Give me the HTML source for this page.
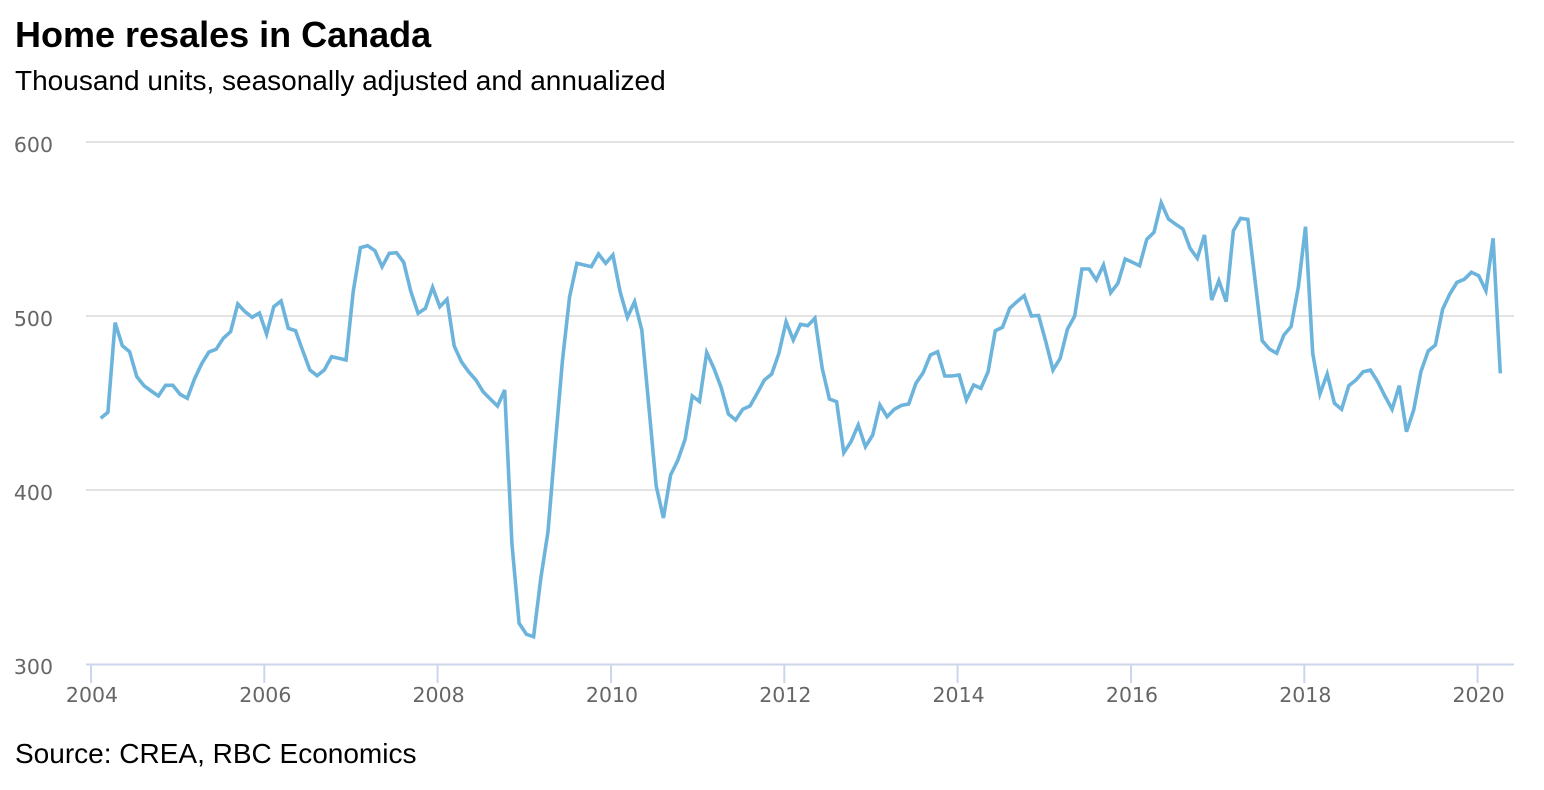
<!DOCTYPE html>
<html><head><meta charset="utf-8"><style>
html,body{margin:0;padding:0;background:#fff;}
svg{display:block;}
</style></head><body>
<svg width="1544" height="790" viewBox="0 0 1544 790" xmlns="http://www.w3.org/2000/svg">
<rect width="1544" height="790" fill="#fff"/>
<text x="15" y="47" font-family="Liberation Sans, Arial, sans-serif" font-size="36" font-weight="bold" fill="#000">Home resales in Canada</text>
<text x="15" y="90" font-family="Liberation Sans, Arial, sans-serif" font-size="28" fill="#000">Thousand units, seasonally adjusted and annualized</text>
<g stroke="#e3e3e3" stroke-width="2">
<line x1="86" y1="142" x2="1514" y2="142"/>
<line x1="86" y1="316" x2="1514" y2="316"/>
<line x1="86" y1="490" x2="1514" y2="490"/>
</g>
<g font-family="DejaVu Sans, Verdana, sans-serif" font-size="20.5" fill="#666" text-anchor="end">
<text x="53" y="152">600</text>
<text x="53" y="326">500</text>
<text x="53" y="500">400</text>
<text x="53" y="674">300</text>
</g>
<g stroke="#ccd6eb" stroke-width="2">
<line x1="86" y1="664.5" x2="1514" y2="664.5"/>
<line x1="91" y1="664" x2="91" y2="683"/>
<line x1="264.3" y1="664" x2="264.3" y2="683"/>
<line x1="437.6" y1="664" x2="437.6" y2="683"/>
<line x1="611" y1="664" x2="611" y2="683"/>
<line x1="784.3" y1="664" x2="784.3" y2="683"/>
<line x1="957.6" y1="664" x2="957.6" y2="683"/>
<line x1="1131" y1="664" x2="1131" y2="683"/>
<line x1="1304.3" y1="664" x2="1304.3" y2="683"/>
<line x1="1477.6" y1="664" x2="1477.6" y2="683"/>
</g>
<g font-family="DejaVu Sans, Verdana, sans-serif" font-size="20.5" fill="#666" text-anchor="middle">
<text x="92" y="702">2004</text>
<text x="265.3" y="702">2006</text>
<text x="438.6" y="702">2008</text>
<text x="612" y="702">2010</text>
<text x="785.3" y="702">2012</text>
<text x="958.6" y="702">2014</text>
<text x="1132" y="702">2016</text>
<text x="1305.3" y="702">2018</text>
<text x="1478.6" y="702">2020</text>
</g>
<polyline fill="none" stroke="#6cb4dc" stroke-width="3.6" stroke-linejoin="miter" stroke-linecap="butt" points="
100.7,418.3 107.9,412.3 115.1,322.7 122.3,345.7 129.6,351.7 136.8,376.7 144.0,385.7 151.2,391 158.4,396 165.6,385.3
172.8,385.3 180.1,394.3 187.3,398.3 194.5,379 201.7,363.7 208.9,352 216.1,349.3 223.3,338.3 230.6,331.7 237.8,304
245.0,311.7 252.2,317.3 259.4,313 266.6,334 273.8,306.7 281.1,301 288.3,328.3 295.5,330.7 302.7,350.7 309.9,370
317.1,375.7 324.3,370 331.6,356.7 338.8,358.3 346.0,360 353.2,291.7 360.4,247.7 367.6,245.7 374.9,250.7 382.1,266.7
389.3,253.3 396.5,252.7 403.7,262.3 410.9,291.7 418.1,313.3 425.4,308.3 432.6,287.3 439.8,306.7 447.0,299.3 454.2,346
461.4,361.7 468.6,371.7 475.9,380 483.1,391.7 490.3,399 497.5,406 504.7,390 511.9,543.3 519.1,623.3 526.4,634.3
533.6,636.7 540.8,578.3 548.0,531.7 555.2,445 562.4,361 569.6,296.7 576.9,263.3 584.1,265 591.3,266.7 598.5,254
605.7,263.3 612.9,255 620.1,291.7 627.4,317.3 634.6,301.7 641.8,330 649.0,408 656.2,486 663.4,518 670.6,475
677.9,460 685.1,439.3 692.3,396 699.5,401.5 706.7,352.5 713.9,368.3 721.1,387.3 728.4,414 735.6,420 742.8,409.3
750.0,406 757.2,393.3 764.4,380 771.7,374 778.9,353.3 786.1,321.7 793.3,340 800.5,324.3 807.7,325.7 814.9,318.3
822.2,368.3 829.4,399 836.6,401.7 843.8,452.7 851.0,441.7 858.2,425 865.4,446.7 872.7,435 879.9,405 887.1,416.7
894.3,409.3 901.5,405.3 908.7,404 915.9,383.3 923.2,372.7 930.4,355 937.6,351.7 944.8,376 952.0,376 959.2,375
966.4,400 973.7,385 980.9,388.3 988.1,371.7 995.3,330.7 1002.5,327.3 1009.7,308.3 1016.9,301.7 1024.2,295.7 1031.4,316
1038.6,315.5 1045.8,341.7 1053.0,370 1060.2,358.3 1067.4,329.3 1074.7,316 1081.9,269 1089.1,269 1096.3,280 1103.5,265
1110.7,292.7 1117.9,283.3 1125.2,259 1132.4,262.3 1139.6,265.7 1146.8,239.3 1154.0,232.3 1161.2,202.7 1168.4,219 1175.7,224.3
1182.9,229 1190.1,248.3 1197.3,258.3 1204.5,235 1211.7,300 1218.9,280.7 1226.2,301.7 1233.4,230.7 1240.6,218.3 1247.8,219.3
1255.0,280 1262.2,340.7 1269.4,349 1276.7,353.3 1283.9,335 1291.1,326.5 1298.3,287.5 1305.5,226.7 1312.7,353.3 1319.9,394
1327.2,374 1334.4,403.3 1341.6,409.3 1348.8,385.7 1356.0,380 1363.2,371.7 1370.4,370 1377.7,381.7 1384.9,396 1392.1,409.3
1399.3,385.7 1406.5,431.7 1413.7,410 1420.9,371.7 1428.2,351 1435.4,345 1442.6,309.3 1449.8,294 1457.0,282.3 1464.2,279.3
1471.4,272.3 1478.7,275.7 1485.9,290.7 1493.1,238.3 1500.3,373.3"/>
<text x="15" y="763" font-family="Liberation Sans, Arial, sans-serif" font-size="28" fill="#000">Source: CREA, RBC Economics</text>
</svg>
</body></html>
